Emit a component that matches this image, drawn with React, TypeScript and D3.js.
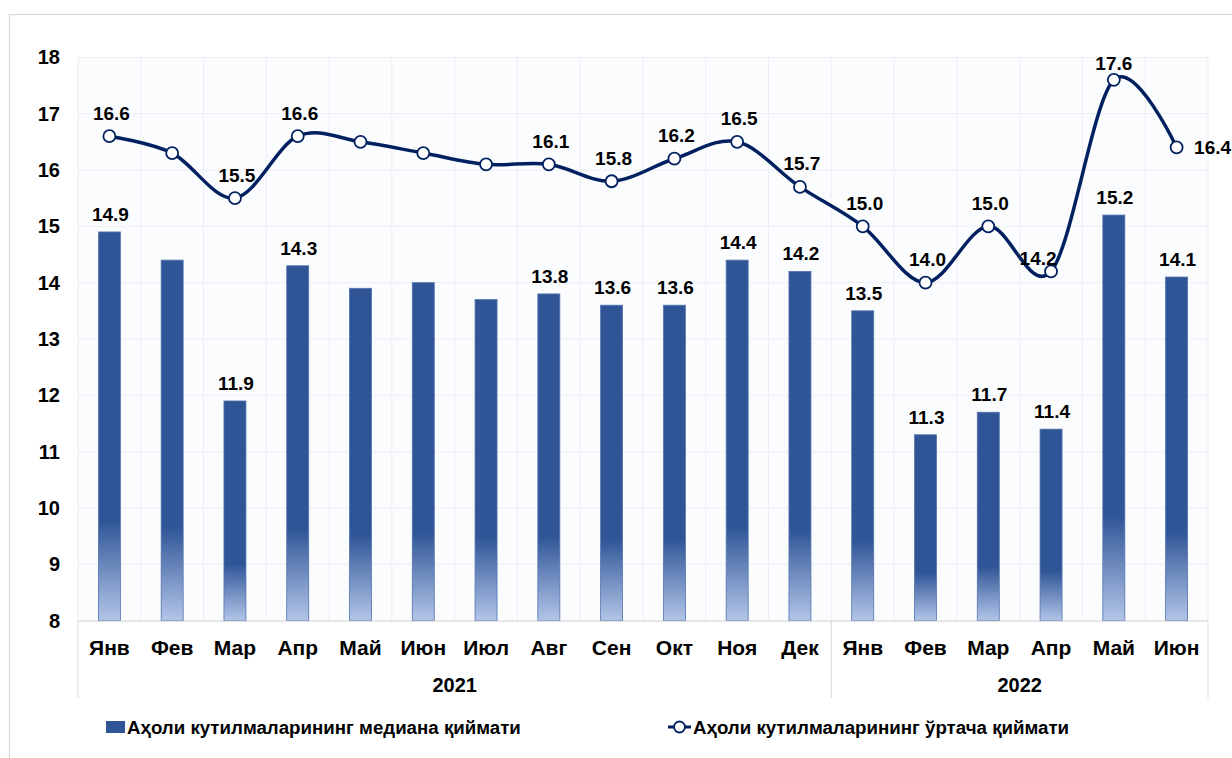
import React from "react";
import * as d3 from "d3";

const months = ["Янв","Фев","Мар","Апр","Май","Июн","Июл","Авг","Сен","Окт","Ноя","Дек","Янв","Фев","Мар","Апр","Май","Июн"];
const years = ["2021", "2022"];
const yearCounts = [12, 6];
const medianValues = [14.9,14.4,11.9,14.3,13.9,14.0,13.7,13.8,13.6,13.6,14.4,14.2,13.5,11.3,11.7,11.4,15.2,14.1];
const meanValues = [16.6,16.3,15.5,16.6,16.5,16.3,16.1,16.1,15.8,16.2,16.5,15.7,15.0,14.0,15.0,14.2,17.6,16.4];
const medianLabelShown = [true,false,true,true,false,false,false,true,true,true,true,true,true,true,true,true,true,true];
const meanLabelShown = [true,false,true,true,false,false,false,true,true,true,true,true,true,true,true,true,true,true];
const yTicks = [8,9,10,11,12,13,14,15,16,17,18];
const legendLabels = ["Аҳоли кутилмаларининг медиана қиймати", "Аҳоли кутилмаларининг ўртача қиймати"];

const W = 1232, H = 758;
const plot = { left: 78, right: 1208, top: 57.3, bottom: 620.7 };
const FONT = "'Liberation Sans', Arial, sans-serif";
const BAR = "#2f5597";
const LINE = "#002060";

export default function App() {
  const x = d3.scaleBand<number>().domain(d3.range(months.length)).range([plot.left, plot.right]).paddingInner(0).paddingOuter(0);
  const y = d3.scaleLinear().domain([8, 18]).range([plot.bottom, plot.top]);
  const bw = x.bandwidth();
  const barW = 22;
  const cx = (i: number) => (x(i) as number) + bw / 2;

  const line = d3.line<number>().x((_, i) => cx(i)).y((d) => y(d)).curve(d3.curveCardinal.tension(0));

  const groupEdges: number[] = [0];
  yearCounts.forEach((c, i) => groupEdges.push(groupEdges[i] + c));
  const edgeX = (k: number) => (k >= months.length ? plot.right : (x(k) as number));

  const meanLabelPos = (i: number) => {
    const px = cx(i), py = y(meanValues[i]);
    if (i === months.length - 1) return { x: px + 17.5, y: py + 7, anchor: "start" };
    if (i === 15) return { x: px - 13, y: py - 6, anchor: "middle" };
    if (i === 16) return { x: px, y: py - 10, anchor: "middle" };
    return { x: px + 2, y: py - 16.5, anchor: "middle" };
  };

  return (
    <div style={{ position: "absolute", left: 0, top: 0 }}>
      <svg width={W} height={H} style={{ display: "block", background: "#fff" }} fontFamily={FONT}>
        <defs>
          <linearGradient id="barGrad" x1="0" y1="0" x2="0" y2="1">
            <stop offset="0" stopColor={BAR} />
            <stop offset="0.74" stopColor={BAR} />
            <stop offset="1" stopColor="#b3c5e8" />
          </linearGradient>
        </defs>
        <rect x={9.5} y={14.5} width={W} height={H} fill="#fff" stroke="#d9d9d9" strokeWidth={1.2} />
        <rect x={plot.left} y={plot.top} width={plot.right - plot.left} height={plot.bottom - plot.top} fill="#fbfcfe" />
        {yTicks.map((t) => (
          <line key={"h" + t} x1={plot.left} x2={plot.right} y1={y(t)} y2={y(t)} stroke="#eceef3" strokeWidth={1} />
        ))}
        {d3.range(months.length + 1).map((k) => (
          <line key={"v" + k} x1={edgeX(k)} x2={edgeX(k)} y1={plot.top} y2={plot.bottom} stroke="#eceef3" strokeWidth={1} />
        ))}
        {yTicks.map((t) => (
          <text key={"yt" + t} x={60} y={y(t) + 7} textAnchor="end" fontSize={20} fontWeight="bold" fill="#000">{t}</text>
        ))}
        {medianValues.map((v, i) => (
          <rect key={"b" + i} x={cx(i) - barW / 2} y={y(v)} width={barW} height={plot.bottom - y(v)} fill="url(#barGrad)" stroke="#5374ad" strokeWidth={0.8} />
        ))}
        {medianValues.map((v, i) =>
          medianLabelShown[i] ? (
            <text key={"bl" + i} x={cx(i) + 1} y={y(v) - 11} textAnchor="middle" fontSize={19} fontWeight="bold" fill="#000">{v.toFixed(1)}</text>
          ) : null
        )}
        <line x1={plot.left} x2={plot.right} y1={plot.bottom + 0.5} y2={plot.bottom + 0.5} stroke="#d9d9d9" strokeWidth={1} />
        {groupEdges.map((k) => (
          <line key={"ge" + k} x1={edgeX(k)} x2={edgeX(k)} y1={plot.bottom} y2={698} stroke="#d9d9d9" strokeWidth={1} />
        ))}
        {months.map((m, i) => (
          <text key={"m" + i} x={cx(i)} y={655} textAnchor="middle" fontSize={21} fontWeight="bold" fill="#000">{m}</text>
        ))}
        {years.map((yr, g) => (
          <text key={"yr" + yr} x={(edgeX(groupEdges[g]) + edgeX(groupEdges[g + 1])) / 2} y={692} textAnchor="middle" fontSize={20} fontWeight="bold" fill="#000">{yr}</text>
        ))}
        <path d={line(meanValues) || ""} fill="none" stroke={LINE} strokeWidth={3.5} strokeLinejoin="round" />
        {meanValues.map((v, i) => (
          <circle key={"c" + i} cx={cx(i)} cy={y(v)} r={6} fill="#fff" stroke={LINE} strokeWidth={1.8} />
        ))}
        {meanValues.map((v, i) => {
          if (!meanLabelShown[i]) return null;
          const p = meanLabelPos(i);
          return (
            <text key={"ml" + i} x={p.x} y={p.y} textAnchor={p.anchor as any} fontSize={19} fontWeight="bold" fill="#000">{v.toFixed(1)}</text>
          );
        })}
        <rect x={106} y={721} width={19} height={12} fill={BAR} />
        <text x={127} y={734} fontSize={18.7} fontWeight="bold" fill="#000">{legendLabels[0]}</text>
        <line x1={668} x2={691} y1={727} y2={727} stroke={LINE} strokeWidth={3} />
        <circle cx={679.5} cy={727} r={5.5} fill="#fff" stroke={LINE} strokeWidth={1.8} />
        <text x={693} y={734} fontSize={18.7} fontWeight="bold" fill="#000">{legendLabels[1]}</text>
      </svg>
    </div>
  );
}
